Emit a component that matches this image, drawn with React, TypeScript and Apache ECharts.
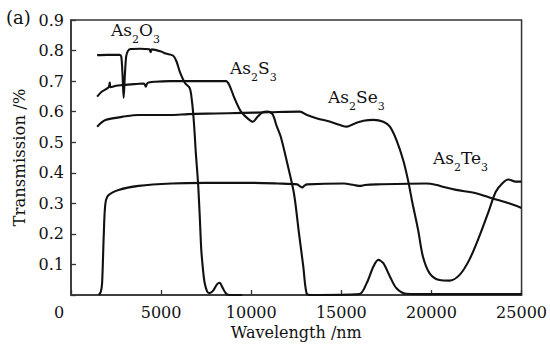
import React, { useEffect, useRef } from "react";
import * as echarts from "echarts";

const xTicks = [0, 5000, 10000, 15000, 20000, 25000];
const yTicks = [0.1, 0.2, 0.3, 0.4, 0.5, 0.6, 0.7, 0.8, 0.9];

const as2o3: [number, number][] = [
  [1450, 0.785], [2000, 0.786], [2700, 0.786], [2790, 0.78], [2860, 0.72], [2920, 0.645],
  [2990, 0.72], [3060, 0.78], [3150, 0.798], [3300, 0.805], [3800, 0.806], [4350, 0.804],
  [4420, 0.795], [4480, 0.804], [5000, 0.797], [5250, 0.79], [5670, 0.783], [5850, 0.765],
  [6040, 0.73], [6320, 0.694], [6590, 0.677], [6720, 0.63], [6800, 0.58], [6870, 0.52],
  [6920, 0.47], [7050, 0.366], [7150, 0.25], [7230, 0.147], [7330, 0.08], [7415, 0.04],
  [7550, 0.012], [7690, 0.006], [7900, 0.015], [8100, 0.035], [8250, 0.04], [8400, 0.025],
  [8600, 0.005], [8800, 0], [9500, 0],
];

const as2s3: [number, number][] = [
  [1450, 0.649], [1700, 0.665], [2090, 0.68], [2150, 0.695], [2200, 0.68], [2500, 0.685],
  [2830, 0.687], [3500, 0.69], [4050, 0.692], [4150, 0.682], [4250, 0.694], [4665, 0.698],
  [5500, 0.7], [7000, 0.7], [8600, 0.7], [8800, 0.685], [9070, 0.644], [9430, 0.6],
  [9800, 0.578], [10080, 0.567], [10350, 0.583], [10630, 0.598], [10900, 0.6], [11180, 0.592],
  [11400, 0.555], [11640, 0.518], [12000, 0.431], [12370, 0.333], [12650, 0.202],
  [12890, 0.093], [13070, 0.006], [13300, 0], [16000, 0.003], [16400, 0.038], [16780, 0.093],
  [17050, 0.115], [17330, 0.104], [17700, 0.06], [18060, 0.022], [18600, 0.004],
  [20000, 0.003], [25000, 0.003],
];

const as2se3: [number, number][] = [
  [1450, 0.551], [1700, 0.565], [1910, 0.573], [2300, 0.578], [2825, 0.583], [3745, 0.589],
  [4700, 0.589], [5580, 0.589], [6500, 0.592], [8000, 0.594], [9500, 0.596], [11000, 0.598],
  [12700, 0.6], [13100, 0.589], [13660, 0.578], [14390, 0.567], [14940, 0.556], [15310, 0.551],
  [15680, 0.56], [16230, 0.57], [16780, 0.573], [17330, 0.567], [17695, 0.551], [18060, 0.507],
  [18430, 0.442], [18700, 0.376], [18950, 0.3], [19260, 0.213], [19530, 0.125], [19900, 0.071],
  [20450, 0.049], [21000, 0.047], [21550, 0.065], [22100, 0.115], [22650, 0.191], [23200, 0.278],
  [23570, 0.338], [23940, 0.366], [24270, 0.378], [24670, 0.371], [25000, 0.371],
];

const as2te3: [number, number][] = [
  [1540, 0], [1650, 0.01], [1725, 0.038], [1820, 0.2], [1910, 0.3], [2090, 0.327],
  [2640, 0.344], [3745, 0.357], [5580, 0.365], [7420, 0.367], [10170, 0.367], [11450, 0.365],
  [12555, 0.362], [12700, 0.356], [12830, 0.352], [12950, 0.358], [13100, 0.362],
  [15130, 0.365], [15700, 0.36], [16040, 0.357], [16300, 0.36], [16960, 0.362], [19710, 0.365],
  [20300, 0.36], [20630, 0.354], [21370, 0.344], [22470, 0.333], [23390, 0.316], [24300, 0.3],
  [25000, 0.285],
];

const seriesNames = ["As2O3", "As2S3", "As2Se3", "As2Te3"];
const seriesData = [as2o3, as2s3, as2se3, as2te3];
const curveLabels = ["As{s|2}O{s|3}", "As{s|2}S{s|3}", "As{s|2}Se{s|3}", "As{s|2}Te{s|3}"];
const labelPos: [number, number][] = [[111, 30], [230, 68], [328, 97], [433, 158]];

const FONT = "'DejaVu Serif', serif";
const INK = "#111";

export default function App() {
  const ref = useRef<HTMLDivElement>(null);
  useEffect(() => {
    if (!ref.current) return;
    const chart = echarts.init(ref.current, null, { renderer: "svg" });
    const rich = {
      m: { fontSize: 17, fontFamily: FONT, fill: INK, verticalAlign: "top", lineHeight: 18 },
      s: { fontSize: 11, fontFamily: FONT, fill: INK, verticalAlign: "bottom", lineHeight: 24 },
    };
    const labelGraphics = curveLabels.map((t, i) => ({
      type: "text",
      left: labelPos[i][0],
      top: labelPos[i][1] - 9,
      style: {
        text: t.replace(/^(As)/, "{m|As}").replace(/\}([A-Z][a-z]?)\{/g, "}{m|$1}{"),
        rich,
        fill: INK,
      },
    }));
    chart.setOption({
      animation: false,
      backgroundColor: "#fff",
      grid: {
        left: 71, right: 24, top: 20, bottom: 54, show: true,
        borderColor: "#333", borderWidth: 1.5, backgroundColor: "transparent",
      },
      xAxis: {
        type: "value", min: 0, max: 25000, interval: 5000,
        name: "Wavelength /nm", nameLocation: "middle", nameGap: 21,
        nameTextStyle: { fontFamily: FONT, fontSize: 16, color: INK },
        axisLine: { show: true, lineStyle: { color: "#333", width: 1.5 } },
        axisTick: { show: true, inside: true, length: 5, lineStyle: { color: "#333", width: 1.3 } },
        axisLabel: {
          margin: 9, fontFamily: FONT, fontSize: 16, color: INK,
          formatter: (v: number) => (v === 0 ? "" : String(v)),
        },
        splitLine: { show: false },
      },
      yAxis: {
        type: "value", min: 0, max: 0.9, interval: 0.1,
        name: "Transmission /%", nameLocation: "middle", nameGap: 38, nameRotate: 90,
        nameTextStyle: { fontFamily: FONT, fontSize: 16.5, color: INK },
        axisLine: { show: true, lineStyle: { color: "#333", width: 1.5 } },
        axisTick: { show: true, inside: true, length: 5, lineStyle: { color: "#333", width: 1.3 } },
        axisLabel: {
          margin: 7, fontFamily: FONT, fontSize: 16, color: INK,
          formatter: (v: number) => (v < 0.05 ? "" : v.toFixed(1)),
        },
        splitLine: { show: false },
      },
      series: seriesData.map((d, i) => ({
        name: seriesNames[i],
        type: "line",
        data: d,
        showSymbol: false,
        smooth: 0.3,
        clip: true,
        lineStyle: { color: INK, width: 2.1 },
      })),
      graphic: [
        { type: "text", left: 6, top: 8, style: { text: "(a)", fontFamily: FONT, fontSize: 18, fill: INK } },
        { type: "text", left: 54, top: 304, style: { text: "0", fontFamily: FONT, fontSize: 16, fill: INK } },
        ...labelGraphics,
      ],
    });
    return () => chart.dispose();
  }, []);
  return (
    <div
      ref={ref}
      style={{ position: "absolute", left: 0, top: 0, width: 550, height: 349 }}
    />
  );
}
